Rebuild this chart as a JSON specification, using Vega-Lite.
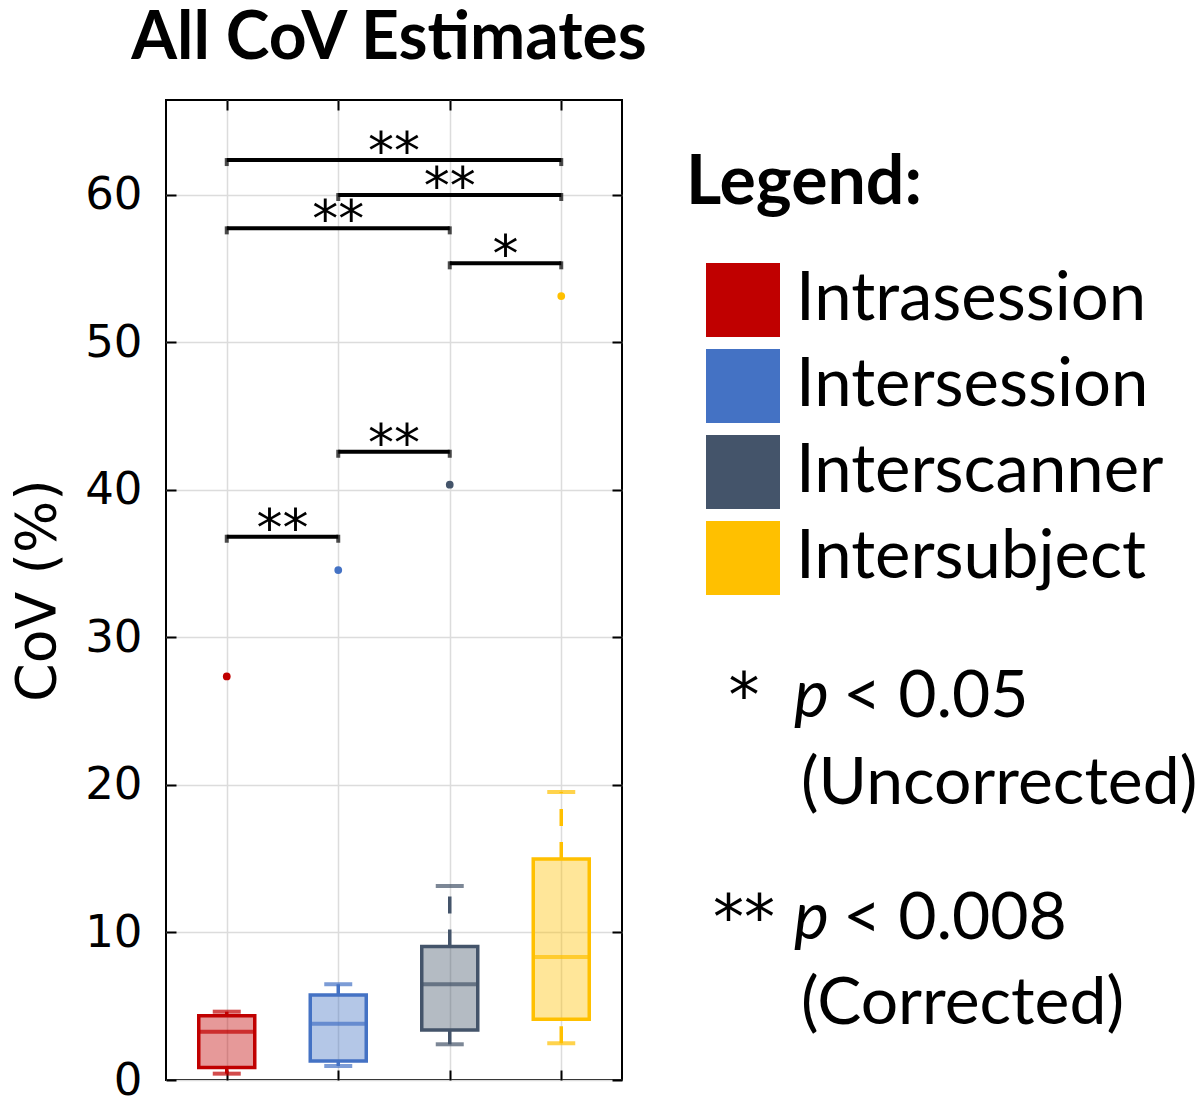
{
  "$schema": "https://vega.github.io/schema/vega-lite/v6.json",
  "width": 456,
  "height": 980,
  "autosize": {"type": "pad"},
  "padding": {"left": 10, "top": 6, "right": 5, "bottom": 0},
  "background": "white",
  "title": {"text": "All CoV Estimates", "font": "Lato", "fontSize": 66, "fontWeight": "bold", "color": "black", "anchor": "middle", "frame": "group", "offset": 26, "dx": -5},
  "config": {
    "view": {"stroke": "black", "strokeWidth": 2},
    "axis": {"gridColor": "#dcdcdc", "gridWidth": 1.5, "domain": false, "tickColor": "black", "tickWidth": 2, "tickSize": -10, "labelColor": "black", "titleColor": "black"},
    "legend": {"titleFont": "Lato", "titleFontSize": 68, "titleFontWeight": "bold", "titleColor": "black", "titleLimit": 0, "labelFont": "Lato", "labelFontSize": 67, "labelColor": "black", "symbolType": "square", "symbolSize": 5476, "symbolStrokeWidth": 0, "symbolOpacity": 1, "symbolOffset": 20, "labelOffset": 16, "rowPadding": 12, "titlePadding": 45, "padding": 0, "labelLimit": 0}
  },
  "datasets": {
    "boxes": [
      {"group": "Intrasession", "pos": 1, "lower": 0.43, "q1": 0.84, "median": 3.27, "q3": 4.36, "upper": 4.63},
      {"group": "Intersession", "pos": 2, "lower": 0.95, "q1": 1.29, "median": 3.82, "q3": 5.76, "upper": 6.49},
      {"group": "Interscanner", "pos": 3, "lower": 2.42, "q1": 3.39, "median": 6.49, "q3": 9.04, "upper": 13.15},
      {"group": "Intersubject", "pos": 4, "lower": 2.49, "q1": 4.11, "median": 8.34, "q3": 14.98, "upper": 19.52}
    ],
    "outliers": [
      {"group": "Intrasession", "pos": 1, "cov": 27.35},
      {"group": "Intersession", "pos": 2, "cov": 34.56},
      {"group": "Interscanner", "pos": 3, "cov": 40.35},
      {"group": "Intersubject", "pos": 4, "cov": 53.13}
    ],
    "significance": [
      {"from": 1, "to": 2, "mid": 1.5, "level": 36.82, "label": "**"},
      {"from": 2, "to": 3, "mid": 2.5, "level": 42.58, "label": "**"},
      {"from": 3, "to": 4, "mid": 3.5, "level": 55.35, "label": "*"},
      {"from": 1, "to": 3, "mid": 2.0, "level": 57.72, "label": "**"},
      {"from": 2, "to": 4, "mid": 3.0, "level": 59.98, "label": "**"},
      {"from": 1, "to": 4, "mid": 2.5, "level": 62.35, "label": "**"}
    ],
    "notes": [
      {"note": "uncorrected", "stars": "*", "p": "p", "threshold": "< 0.05", "correction": "(Uncorrected)"},
      {"note": "corrected", "stars": "**", "p": "p", "threshold": "< 0.008", "correction": "(Corrected)"}
    ]
  },
  "layer": [
    {
      "data": {"name": "boxes"},
      "mark": {"type": "bar", "width": 56, "opacity": 0.4},
      "encoding": {
        "x": {"field": "pos", "type": "quantitative", "scale": {"domain": [0.5, 4.5], "nice": false, "zero": false},
              "axis": {"orient": "bottom", "values": [1, 2, 3, 4], "labels": false, "title": null, "grid": true}},
        "y": {"field": "q1", "type": "quantitative", "scale": {"domain": [0, 66.42], "nice": false, "zero": true},
              "axis": {"orient": "left", "values": [0, 10, 20, 30, 40, 50, 60], "labelFont": "DejaVu Sans", "labelFontSize": 45, "labelPadding": 34, "title": "CoV (%)", "titleFont": "DejaVu Sans", "titleFontSize": 55, "titleFontWeight": "normal", "titlePadding": 18, "grid": true}},
        "y2": {"field": "q3"},
        "color": {"field": "group", "type": "nominal", "scale": {"domain": ["Intrasession", "Intersession", "Interscanner", "Intersubject"], "range": ["#C00000", "#4472C4", "#44546A", "#FFC000"]}, "title": "Legend:", "legend": {"orient": "none", "legendX": 520, "legendY": 50}}
      }
    },
    {
      "data": {"name": "boxes"},
      "mark": {"type": "bar", "width": 56, "filled": false, "strokeWidth": 3.5},
      "encoding": {
        "x": {"field": "pos", "type": "quantitative", "axis": {"orient": "top", "values": [1, 2, 3, 4], "labels": false, "title": null, "grid": false}},
        "y": {"field": "q1", "type": "quantitative", "axis": {"orient": "right", "values": [0, 10, 20, 30, 40, 50, 60], "labels": false, "title": null, "grid": false}},
        "y2": {"field": "q3"},
        "color": {"field": "group", "type": "nominal", "title": "Legend:"}
      }
    },
    {
      "data": {"name": "boxes"},
      "mark": {"type": "rule", "strokeWidth": 3.5, "strokeDash": [17, 16]},
      "encoding": {
        "x": {"field": "pos", "type": "quantitative", "axis": null},
        "y": {"field": "q3", "type": "quantitative", "axis": null},
        "y2": {"field": "upper"},
        "color": {"field": "group", "type": "nominal", "title": "Legend:"}
      }
    },
    {
      "data": {"name": "boxes"},
      "mark": {"type": "rule", "strokeWidth": 3.5, "strokeDash": [17, 16]},
      "encoding": {
        "x": {"field": "pos", "type": "quantitative", "axis": null},
        "y": {"field": "lower", "type": "quantitative", "axis": null},
        "y2": {"field": "q1"},
        "color": {"field": "group", "type": "nominal", "title": "Legend:"}
      }
    },
    {
      "data": {"name": "boxes"},
      "mark": {"type": "tick", "orient": "horizontal", "size": 28, "thickness": 4},
      "encoding": {
        "x": {"field": "pos", "type": "quantitative", "axis": null},
        "y": {"field": "upper", "type": "quantitative", "axis": null},
        "color": {"field": "group", "type": "nominal", "title": "Legend:"}
      }
    },
    {
      "data": {"name": "boxes"},
      "mark": {"type": "tick", "orient": "horizontal", "size": 28, "thickness": 4},
      "encoding": {
        "x": {"field": "pos", "type": "quantitative", "axis": null},
        "y": {"field": "lower", "type": "quantitative", "axis": null},
        "color": {"field": "group", "type": "nominal", "title": "Legend:"}
      }
    },
    {
      "data": {"name": "boxes"},
      "mark": {"type": "tick", "orient": "horizontal", "size": 56, "thickness": 4},
      "encoding": {
        "x": {"field": "pos", "type": "quantitative", "axis": null},
        "y": {"field": "median", "type": "quantitative", "axis": null},
        "color": {"field": "group", "type": "nominal", "title": "Legend:"}
      }
    },
    {
      "data": {"name": "outliers"},
      "mark": {"type": "circle", "size": 60, "opacity": 1},
      "encoding": {
        "x": {"field": "pos", "type": "quantitative", "axis": null},
        "y": {"field": "cov", "type": "quantitative", "axis": null},
        "color": {"field": "group", "type": "nominal", "title": "Legend:"}
      }
    },
    {
      "data": {"name": "significance"},
      "mark": {"type": "rule", "strokeWidth": 4, "color": "black"},
      "encoding": {
        "x": {"field": "from", "type": "quantitative", "axis": null},
        "x2": {"field": "to"},
        "y": {"field": "level", "type": "quantitative", "axis": null}
      }
    },
    {
      "data": {"name": "significance"},
      "mark": {"type": "tick", "orient": "vertical", "size": 8, "thickness": 4, "yOffset": 2, "color": "black"},
      "encoding": {
        "x": {"field": "from", "type": "quantitative", "axis": null},
        "y": {"field": "level", "type": "quantitative", "axis": null}
      }
    },
    {
      "data": {"name": "significance"},
      "mark": {"type": "tick", "orient": "vertical", "size": 8, "thickness": 4, "yOffset": 2, "color": "black"},
      "encoding": {
        "x": {"field": "to", "type": "quantitative", "axis": null},
        "y": {"field": "level", "type": "quantitative", "axis": null}
      }
    },
    {
      "data": {"name": "significance"},
      "mark": {"type": "text", "font": "DejaVu Sans", "fontSize": 52, "baseline": "alphabetic", "align": "center", "dy": 9, "color": "black"},
      "encoding": {
        "x": {"field": "mid", "type": "quantitative", "axis": null},
        "y": {"field": "level", "type": "quantitative", "axis": null},
        "text": {"field": "label"}
      }
    },
    {
      "data": {"name": "notes"},
      "transform": [{"filter": "datum.note == 'uncorrected'"}],
      "layer": [
        {"mark": {"type": "text", "font": "DejaVu Sans", "fontSize": 62, "align": "center", "baseline": "alphabetic", "color": "black"},
         "encoding": {"x": {"datum": 5.64, "type": "quantitative", "axis": null}, "y": {"datum": 24.6, "type": "quantitative", "axis": null}, "text": {"field": "stars"}}},
        {"mark": {"type": "text", "font": "Lato", "fontSize": 66, "fontStyle": "italic", "align": "left", "baseline": "alphabetic", "color": "black"},
         "encoding": {"x": {"datum": 6.088, "type": "quantitative", "axis": null}, "y": {"datum": 24.6, "type": "quantitative", "axis": null}, "text": {"field": "p"}}},
        {"mark": {"type": "text", "font": "Lato", "fontSize": 66, "align": "left", "baseline": "alphabetic", "color": "black"},
         "encoding": {"x": {"datum": 6.527, "type": "quantitative", "axis": null}, "y": {"datum": 24.6, "type": "quantitative", "axis": null}, "text": {"field": "threshold"}}},
        {"mark": {"type": "text", "font": "Lato", "fontSize": 66, "align": "left", "baseline": "alphabetic", "color": "black"},
         "encoding": {"x": {"datum": 6.15, "type": "quantitative", "axis": null}, "y": {"datum": 18.7, "type": "quantitative", "axis": null}, "text": {"field": "correction"}}}
      ]
    },
    {
      "data": {"name": "notes"},
      "transform": [{"filter": "datum.note == 'corrected'"}],
      "layer": [
        {"mark": {"type": "text", "font": "DejaVu Sans", "fontSize": 62, "align": "center", "baseline": "alphabetic", "color": "black"},
         "encoding": {"x": {"datum": 5.64, "type": "quantitative", "axis": null}, "y": {"datum": 9.55, "type": "quantitative", "axis": null}, "text": {"field": "stars"}}},
        {"mark": {"type": "text", "font": "Lato", "fontSize": 66, "fontStyle": "italic", "align": "left", "baseline": "alphabetic", "color": "black"},
         "encoding": {"x": {"datum": 6.088, "type": "quantitative", "axis": null}, "y": {"datum": 9.55, "type": "quantitative", "axis": null}, "text": {"field": "p"}}},
        {"mark": {"type": "text", "font": "Lato", "fontSize": 66, "align": "left", "baseline": "alphabetic", "color": "black"},
         "encoding": {"x": {"datum": 6.527, "type": "quantitative", "axis": null}, "y": {"datum": 9.55, "type": "quantitative", "axis": null}, "text": {"field": "threshold"}}},
        {"mark": {"type": "text", "font": "Lato", "fontSize": 66, "align": "left", "baseline": "alphabetic", "color": "black"},
         "encoding": {"x": {"datum": 6.15, "type": "quantitative", "axis": null}, "y": {"datum": 3.79, "type": "quantitative", "axis": null}, "text": {"field": "correction"}}}
      ]
    }
  ],
  "resolve": {"axis": {"x": "independent", "y": "independent"}}
}
